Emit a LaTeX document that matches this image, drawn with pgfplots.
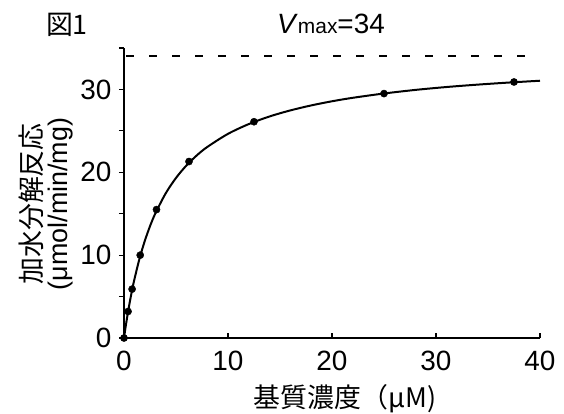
\documentclass[border=0pt]{standalone}
\usepackage{fontspec}
\setmainfont{Liberation Sans}
\newfontfamily\jp{Noto Sans CJK JP}
\usepackage{pgfplots}
\pgfplotsset{compat=1.18}

\begin{document}
\begin{tikzpicture}
\useasboundingbox (-124bp,-76bp) rectangle (440bp,338bp);
\begin{axis}[
  at={(0,0)}, anchor=south west,
  scale only axis, width=416bp, height=290bp,
  xmin=0, xmax=40, ymin=0, ymax=35,
  axis lines=left,
  axis line style={line width=1.6pt, -},
  clip=false,
  xtick={0,10,20,30,40},
  ytick={0,10,20,30},
  minor ytick={5,15,25,35},
  xtick align=inside,
  ytick align=outside,
  major tick length=5bp,
  minor tick length=5bp,
  tick style={line width=1.2pt, black},
  /pgf/number format/assume math mode=true,
  tick label style={font=\fontsize{28}{32}\selectfont},
  xticklabel style={yshift=-10bp},
  yticklabel style={xshift=-4bp},
]
% V = Vmax at 34
\addplot[black, line width=1.6pt, dash pattern=on 8bp off 15bp] coordinates {(0.2,34) (40,34)};
% fitted curve
\addplot[black, line width=2pt, smooth] coordinates {
  (0,0) (0.1,0.87) (0.2,1.70) (0.4,3.24) (0.6,4.64) (0.8,5.91) (1,7.08)
  (1.5,9.62) (2,11.72) (2.5,13.49) (3,15.0) (4,17.44) (5,19.32) (6,20.82)
  (7,22.04) (8,23.05) (10,24.64) (12,25.82) (14,26.74) (16,27.47) (18,28.07)
  (20,28.57) (22,28.99) (25,29.51) (28,29.94) (31,30.29) (34,30.58)
  (37,30.83) (40,31.05)
};
% measured points
\addplot[only marks, mark=*, mark size=3.6bp, black] coordinates {
  (0,0) (0.39,3.2) (0.78,5.9) (1.56,10.0) (3.125,15.5) (6.25,21.3)
  (12.5,26.1) (25,29.5) (37.5,30.9)
};
\end{axis}
\node[font=\jp\fontsize{27}{30}\selectfont] at (221bp,-61bp) {基質濃度（μM)};
\node[rotate=90, align=center, font=\fontsize{27}{27}\selectfont] at (-78bp,134bp)
  {{\jp 加水分解反応}\\[-1bp](μmol/min/mg)};
\node[font=\jp\fontsize{27}{30}\selectfont] at (-57bp,313bp) {図1};
\node[font=\fontsize{28}{32}\selectfont] at (207bp,314bp)
  {\textit{V}{\fontsize{21}{24}\selectfont max}=34};
\end{tikzpicture}
\end{document}
